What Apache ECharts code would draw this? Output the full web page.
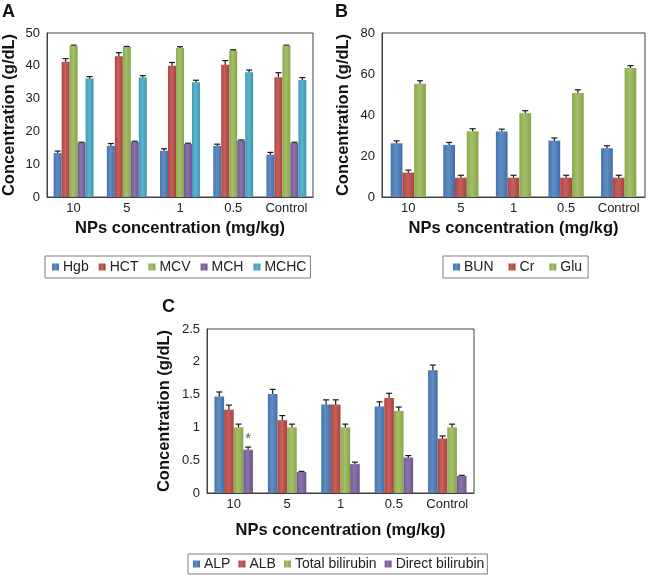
<!DOCTYPE html>
<html>
<head>
<meta charset="utf-8">
<script src="https://cdn.jsdelivr.net/npm/echarts@6/dist/echarts.min.js"></script>
<style>
html,body{margin:0;padding:0;background:#fff;}
#chart{width:650px;height:575px;}
</style>
</head>
<body>
<div id="chart"></div>
<script>
// ---- Data ----
var categories = ['10', '5', '1', '0.5', 'Control'];

// Panel A
var seriesA = ['Hgb', 'HCT', 'MCV', 'MCH', 'MCHC'];
var hgb  = [13.4, 15.6, 14.1, 15.6, 12.9];
var hct  = [41.2, 42.9, 40.0, 40.3, 36.5];
var mcv  = [46.1, 45.7, 45.4, 44.7, 46.1];
var mch  = [16.5, 16.8, 16.2, 17.2, 16.5];
var mchc = [36.1, 36.4, 35.0, 38.0, 35.7];
var hgbErr  = [0.6, 0.7, 0.6, 0.5, 0.7];
var hctErr  = [1.0, 1.1, 1.0, 1.3, 1.4];
var mcvErr  = [0.2, 0.2, 0.4, 0.2, 0.2];
var mchErr  = [0.2, 0.2, 0.2, 0.2, 0.2];
var mchcErr = [0.6, 0.6, 0.6, 0.7, 0.7];

// Panel B
var seriesB = ['BUN', 'Cr', 'Glu'];
var bun = [26.2, 25.4, 31.9, 27.5, 23.8];
var cr  = [11.9, 9.4, 9.4, 9.4, 9.4];
var glu = [55.2, 32.1, 40.9, 50.7, 62.9];
var bunErr = [1.2, 1.2, 1.2, 1.3, 1.2];
var crErr  = [1.2, 1.2, 1.2, 1.2, 1.2];
var gluErr = [1.5, 1.2, 1.2, 1.6, 1.2];

// Panel C
var seriesC = ['ALP', 'ALB', 'Total bilirubin', 'Direct bilirubin'];
var alp   = [1.47, 1.51, 1.35, 1.32, 1.87];
var alb   = [1.27, 1.11, 1.35, 1.45, 0.83];
var tbil  = [1.00, 1.00, 1.00, 1.25, 1.00];
var dbil  = [0.66, 0.32, 0.44, 0.54, 0.26];
var alpErr  = [0.07, 0.07, 0.07, 0.07, 0.08];
var albErr  = [0.07, 0.07, 0.07, 0.07, 0.04];
var tbilErr = [0.05, 0.05, 0.05, 0.06, 0.05];
var dbilErr = [0.04, 0.01, 0.03, 0.03, 0.01];
var dbilMarks = ['*', '', '', '', ''];

var yTicksA = {min: 0, max: 50, interval: 10};
var yTicksB = {min: 0, max: 80, interval: 20};
var yTicksC = {min: 0, max: 2.5, interval: 0.5};

// ---- Styling ----
var palette = {
  blue: '#4a7ebb', red: '#be4b48', green: '#98b954', purple: '#7d60a0', cyan: '#46aac5'
};
function shade(hex, f) {
  var n = parseInt(hex.slice(1), 16);
  var r = (n >> 16) & 255, g = (n >> 8) & 255, b = n & 255;
  function m(c) { return Math.max(0, Math.min(255, Math.round(f >= 0 ? c + (255 - c) * f : c * (1 + f)))); }
  return 'rgb(' + m(r) + ',' + m(g) + ',' + m(b) + ')';
}
function grad(hex) {
  return new echarts.graphic.LinearGradient(0, 0, 1, 0, [
    {offset: 0, color: shade(hex, -0.08)},
    {offset: 0.45, color: shade(hex, 0.12)},
    {offset: 1, color: shade(hex, -0.12)}
  ]);
}

var FONT = '"Liberation Sans", Arial, sans-serif';
var textColor = '#222';

var grids = [
  {left: 47, top: 33, width: 266, height: 164},
  {left: 382, top: 33, width: 263, height: 164},
  {left: 207, top: 329, width: 267, height: 164}
];

function xAx(gi, gap) {
  return {
    type: 'category', gridIndex: gi, data: categories,
    name: 'NPs concentration (mg/kg)', nameLocation: 'middle', nameGap: gap,
    nameTextStyle: {fontFamily: FONT, fontWeight: 'bold', fontSize: 16.5, color: '#111'},
    axisLine: {show: true, lineStyle: {color: '#404040', width: 1}},
    axisTick: {show: false},
    axisLabel: {interval: 0, fontFamily: FONT, fontSize: 13, color: textColor, margin: 5}
  };
}
function yAx(gi, t, gap) {
  return {
    type: 'value', gridIndex: gi, min: t.min, max: t.max, interval: t.interval,
    name: 'Concentration (g/dL)', nameLocation: 'middle', nameGap: gap,
    nameTextStyle: {fontFamily: FONT, fontWeight: 'bold', fontSize: 16.5, color: '#111'},
    axisLine: {show: true, lineStyle: {color: '#404040', width: 1}},
    axisTick: {show: false},
    splitLine: {show: false},
    axisLabel: {fontFamily: FONT, fontSize: 13, color: textColor, margin: 7}
  };
}

var series = [];
function addPanel(gi, names, vals, errs, colors, gap, marks) {
  var n = names.length;
  names.forEach(function (nm, k) {
    series.push({
      type: 'bar', name: nm, xAxisIndex: gi, yAxisIndex: gi,
      data: vals[k], barGap: '0%', barCategoryGap: (gap * 100) + '%',
      itemStyle: {color: grad(colors[k])},
      emphasis: {disabled: true}, animation: false
    });
  });
  names.forEach(function (nm, k) {
    var data = vals[k].map(function (v, i) { return [i, v, errs[k][i]]; });
    var mk = marks && marks[k];
    series.push({
      type: 'custom', xAxisIndex: gi, yAxisIndex: gi, silent: true, animation: false,
      data: data,
      renderItem: function (params, api) {
        var i = api.value(0), v = api.value(1), e = api.value(2);
        var c = api.coord([i, v]);
        var band = api.size([1, 0])[0];
        var groupW = band * (1 - gap);
        var bw = groupW / n;
        var x = c[0] - groupW / 2 + bw * (k + 0.5);
        var yt = api.coord([i, v + e])[1];
        var yb = api.coord([i, v - e])[1];
        var cw = 3;
        var st = {stroke: '#1a1a1a', lineWidth: 1.2};
        var ch = [
          {type: 'line', shape: {x1: x, y1: yt, x2: x, y2: yb}, style: st},
          {type: 'line', shape: {x1: x - cw, y1: yt, x2: x + cw, y2: yt}, style: st},
          {type: 'line', shape: {x1: x - cw, y1: yb, x2: x + cw, y2: yb}, style: st}
        ];
        if (mk && mk[params.dataIndex]) {
          ch.push({type: 'text', style: {text: mk[params.dataIndex], x: x, y: yt - 1,
            align: 'center', verticalAlign: 'bottom', fontSize: 15, fontFamily: FONT, fill: '#555'}});
        }
        return {type: 'group', children: ch};
      }
    });
  });
}

addPanel(0, seriesA, [hgb, hct, mcv, mch, mchc], [hgbErr, hctErr, mcvErr, mchErr, mchcErr],
  [palette.blue, palette.red, palette.green, palette.purple, palette.cyan], 0.25);
addPanel(1, seriesB, [bun, cr, glu], [bunErr, crErr, gluErr],
  [palette.blue, palette.red, palette.green], 0.33);
addPanel(2, seriesC, [alp, alb, tbil, dbil], [alpErr, albErr, tbilErr, dbilErr],
  [palette.blue, palette.red, palette.green, palette.purple], 0.28, [null, null, null, dbilMarks]);

function legend(names, left, top, gap, pad) {
  return {
    data: names, left: left, top: top, orient: 'horizontal',
    itemWidth: 7, itemHeight: 7, itemGap: gap, icon: 'rect',
    borderColor: '#7f7f7f', borderWidth: 1, borderRadius: 0, padding: pad,
    textStyle: {fontFamily: FONT, fontSize: 14, color: textColor, padding: [0, 0, 0, -1]},
    selectedMode: false
  };
}

var titleStyle = {fontFamily: FONT, fontSize: 18, fontWeight: 'bold', color: '#111'};
var option = {
  backgroundColor: '#fff',
  animation: false,
  title: [
    {text: 'A', left: 2, top: 3, padding: 0, textStyle: titleStyle},
    {text: 'B', left: 335, top: 3, padding: 0, textStyle: titleStyle},
    {text: 'C', left: 162, top: 298, padding: 0, textStyle: titleStyle}
  ],
  grid: grids.map(function (g) {
    return Object.assign({show: true, borderColor: '#404040', borderWidth: 1, backgroundColor: 'transparent'}, g);
  }),
  legend: [
    legend(seriesA, 45, 256, 10, [4, 4, 4, 7]),
    legend(seriesB, 443, 256, 15, [4, 6, 4, 10]),
    legend(seriesC, 188, 554, 8, [3, 3, 3, 5])
  ],
  xAxis: [xAx(0, 23), xAx(1, 23), xAx(2, 29)],
  yAxis: [yAx(0, yTicksA, 29), yAx(1, yTicksB, 30), yAx(2, yTicksC, 34)],
  series: series
};

var chart = echarts.init(document.getElementById('chart'), null, {renderer: 'canvas'});
chart.setOption(option);
</script>
</body>
</html>
